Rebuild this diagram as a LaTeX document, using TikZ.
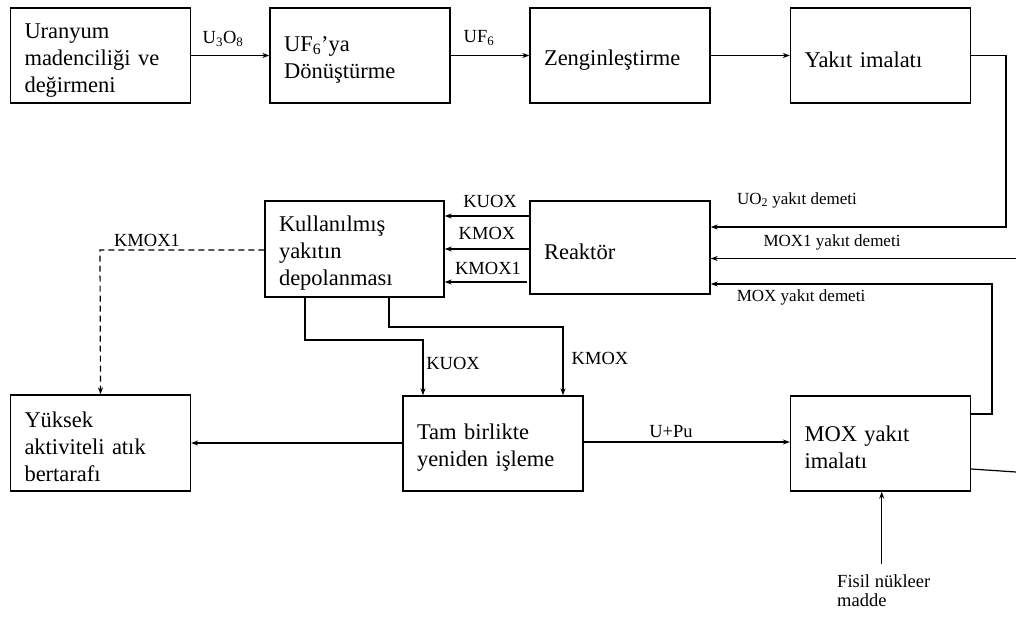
\documentclass[tikz,border=0pt]{standalone}
\usepackage{fontspec}
\setmainfont{Liberation Serif}
\usetikzlibrary{arrows.meta}
\newcommand\nohyphen{\hyphenpenalty=10000 \exhyphenpenalty=10000\relax}
\begin{document}
\begin{tikzpicture}[x=1pt,y=-1pt,
  box/.style={draw, line width=1.3pt, minimum width=180pt, minimum height=95pt,
    inner xsep=14pt, text width=152pt, align=left,
    font={\fontsize{22.5}{27}\selectfont},
    execute at begin node={\nohyphen\rule{0pt}{24pt}}},
  arr/.style={line width=1.2pt, -{Stealth[length=7pt,width=5pt]}},
  ln/.style={line width=1.2pt},
  lbl/.style={inner sep=0pt, font={\fontsize{18.5}{19}\selectfont}},
  slbl/.style={inner sep=0pt, font={\fontsize{17}{18}\selectfont}}]
\useasboundingbox (0,0) rectangle (1016,617);
% boxes
\node[box] (b1) at (100.5,55.5) {Uranyum madenciliği ve değirmeni};
\node[box] (b2) at (360,55.5) {UF\textsubscript{6}’ya Dönüştürme};
\node[box] (b3) at (620,55.5) {Zenginleştirme};
\node[box] (b4) at (880.5,55.5) {Yakıt imalatı};
\node[box, minimum height=93pt] (re) at (620,247.5) {Reaktör};
\node[box, minimum width=179pt, text width=151pt, minimum height=96pt] (st) at (354.5,249) {Kullanılmış yakıtın depolanması};
\node[box, minimum height=96pt] (wa) at (100.5,443) {Yüksek aktiviteli atık bertarafı};
\node[box] (rp) at (493,443.5) {Tam birlikte yeniden işleme};
\node[box] (mx) at (880.5,443.5) {MOX yakıt imalatı};
% top row
\draw[arr] (b1) -- (b2);
\node[lbl] (u3o8) at (223,39) {U\textsubscript{3}O\textsubscript{8}};
\draw[arr] (b2) -- (b3);
\node[lbl] (uf6) at (479,38) {UF\textsubscript{6}};
\draw[arr] (b3) -- (b4);
% fuel to reactor
\coordinate (c1) at (1006,227);
\draw[arr] (b4.east) -| (c1) -- (c1 -| re.east);
\node[slbl] (l1) at (797,200) {UO\textsubscript{2} yakıt demeti};
\coordinate (c2) at (1016,258.5);
\draw[arr] (c2) -- (c2 -| re.east);
\node[slbl] (l2) at (832,242) {MOX1 yakıt demeti};
\coordinate (c3) at (992,414);
\coordinate (c4) at (992,284);
\draw[arr] (c3 -| mx.east) -- (c3) -- (c4) -- (c4 -| re.east);
\node[slbl] (l3) at (801,297) {MOX yakıt demeti};
\coordinate (c5) at (1016,472);
\draw[ln] (mx.east |- 0,469) -- (c5);
% reactor to storage
\coordinate (k1) at (0,216);
\coordinate (k2) at (0,249);
\coordinate (k3) at (527,282);
\draw[arr] (re.west |- k1) -- (st.east |- k1);
\draw[arr] (re.west |- k2) -- (st.east |- k2);
\draw[arr] (k3) -- (st.east |- k3);
\node[lbl] (t1) at (490,201) {KUOX};
\node[lbl] (t2) at (487,233.5) {KMOX};
\node[lbl] (t3) at (488,268) {KMOX1};
% storage dashed to waste
\coordinate (d1) at (100,250);
\draw[arr, dash pattern=on 6pt off 4pt] (st.west |- d1) -- (d1) -- (wa.north);
\node[lbl] (t4) at (147,240) {KMOX1};
% storage to reprocessing
\coordinate (s1) at (305,340);
\coordinate (s2) at (423,340);
\draw[arr] (st.south -| s1) -- (s1) -- (s2) -- (s2 |- rp.north);
\node[lbl] (t5) at (453,363) {KUOX};
\coordinate (s3) at (389,327);
\coordinate (s4) at (563,327);
\draw[arr] (st.south -| s3) -- (s3) -- (s4) -- (s4 |- rp.north);
\node[lbl] (t6) at (600,358) {KMOX};
% reprocessing out
\draw[arr] (rp.west |- 0,443) -- (wa.east |- 0,443);
\draw[arr] (rp.east |- 0,442) -- (mx.west |- 0,442);
\node[lbl] (t7) at (671,432) {U+Pu};
% fissile
\coordinate (f1) at (881.7,564);
\draw[arr] (f1) -- (f1 |- mx.south);
\node[lbl, align=left, anchor=north west] (t8) at (837,574) {Fisil nükleer\\madde};
\end{tikzpicture}
\end{document}
